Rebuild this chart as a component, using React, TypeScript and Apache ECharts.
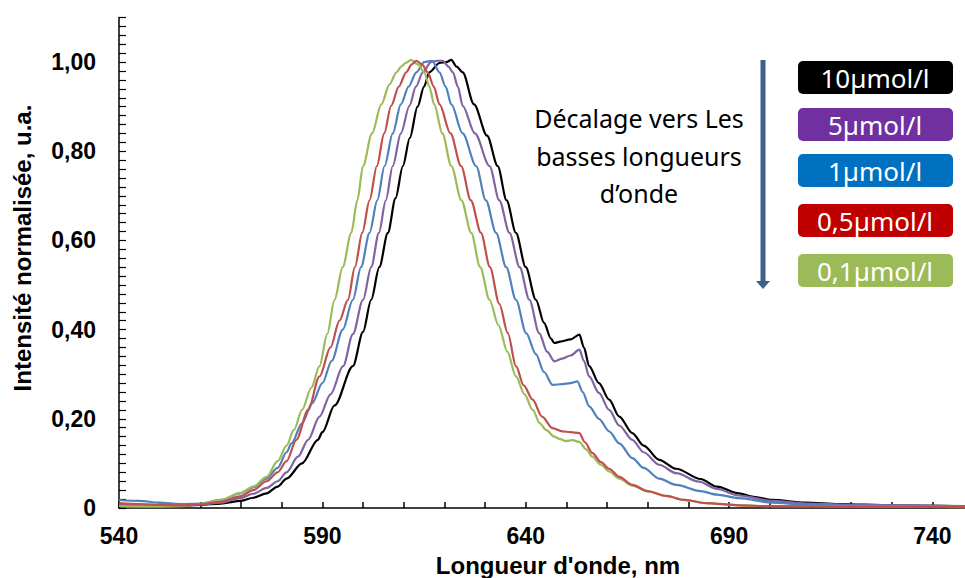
import React, { useEffect, useRef } from "react";
import * as echarts from "echarts";

// Wavelength (nm), normalised intensity pairs
const s10: [number, number][] = [[540,.005],[545,.004],[550,.004],[555,.005],[560,.007],[565,.010],[570,.016],[573,.023],[576.3,.033],[579,.048],[581.2,.066],[585,.10],[588.9,.153],[590,.17],[593,.23],[597.5,.318],[600,.395],[602,.467],[604,.54],[606.1,.617],[608,.695],[609.8,.767],[611.5,.83],[613.4,.90],[615,.945],[616.3,.977],[618.8,.998],[620.5,1.0],[621.7,1.005],[623,.99],[624.5,.977],[627.3,.905],[630.5,.835],[633.1,.767],[635.3,.69],[637.6,.617],[640,.54],[642.5,.467],[644.5,.415],[646.2,.38],[647,.37],[648.5,.373],[651,.378],[653.2,.389],[654.3,.36],[655.6,.318],[658,.28],[660.5,.243],[663,.205],[666.2,.168],[669,.14],[672.8,.108],[677,.088],[683,.065],[687,.048],[692.4,.033],[696,.025],[700.6,.018],[708.8,.012],[717,.009],[730,.006],[748,.004]];
const s5: [number, number][] = [[540,.008],[545,.006],[550,.005],[555,.006],[560,.008],[565,.012],[569.7,.022],[573,.032],[576.3,.045],[579,.06],[581.2,.08],[584,.115],[586.5,.153],[589.3,.205],[592,.255],[595.1,.318],[597.5,.39],[600,.467],[602,.54],[603.9,.617],[605.6,.69],[607.3,.767],[609.3,.84],[611.4,.902],[613,.945],[614.7,.977],[616.7,1.0],[618.2,1.003],[619.6,1.003],[621,.99],[622.1,.977],[623.3,.945],[624.5,.902],[627.5,.84],[631.1,.767],[633.5,.69],[636,.617],[638.5,.54],[640.9,.467],[643.3,.392],[645.3,.35],[647,.329],[649,.335],[651,.342],[653.2,.355],[654.3,.33],[655.6,.295],[658,.258],[660.5,.22],[663,.185],[666.2,.153],[669,.125],[672.8,.097],[677,.078],[682.6,.059],[687,.043],[692.4,.028],[700.6,.016],[708.8,.010],[720,.007],[748,.004]];
const s1: [number, number][] = [[540,.018],[545,.016],[550,.012],[555,.009],[560,.010],[565,.018],[569.7,.033],[573,.046],[576.3,.066],[579,.09],[581.2,.125],[582.4,.145],[585,.19],[587.5,.235],[590,.28],[592.3,.33],[595,.4],[597.5,.467],[599.5,.54],[601.6,.617],[603.5,.69],[605.3,.767],[607.3,.84],[609.3,.905],[611.2,.945],[613.1,.977],[615,1.0],[617,1.003],[618.8,.977],[620.3,.945],[621.7,.905],[624.5,.84],[627.8,.767],[630.2,.69],[632.7,.617],[635.2,.54],[637.6,.467],[640.1,.392],[642.5,.345],[644.5,.305],[646.6,.276],[649,.278],[651,.28],[652.7,.284],[654,.26],[655.6,.228],[658,.2],[660.5,.172],[663,.145],[666.2,.112],[669,.09],[672.8,.066],[677,.052],[683,.038],[687,.03],[692.4,.022],[700.6,.012],[708.8,.008],[720,.005],[748,.003]];
const s05: [number, number][] = [[540,.011],[545,.009],[550,.007],[555,.006],[560,.008],[565,.014],[569.7,.026],[573,.04],[576.3,.06],[579,.08],[581.2,.105],[583.6,.153],[586.5,.22],[589.3,.295],[592,.36],[594.2,.42],[596.3,.467],[598,.54],[599.8,.617],[601.6,.69],[603.4,.767],[605.2,.84],[606.9,.902],[608.8,.945],[610.6,.977],[612,.995],[613.1,1.003],[614.5,.995],[615.9,.977],[617.4,.945],[618.8,.905],[621.5,.84],[624.1,.767],[626.5,.69],[629,.617],[631.2,.54],[633.5,.458],[635.6,.392],[637.6,.318],[639.5,.275],[641.7,.243],[644,.205],[646.6,.179],[649,.172],[651,.17],[653.2,.168],[654.5,.148],[656.4,.123],[658.5,.103],[660.5,.088],[663,.07],[666.2,.052],[670,.038],[674.5,.027],[679,.018],[684.3,.011],[692.4,.006],[700,.004],[748,.002]];
const s01: [number, number][] = [[540,.004],[545,.003],[550,.003],[555,.004],[560,.009],[565,.018],[569.7,.033],[573,.048],[576.3,.07],[579,.105],[581.2,.14],[583,.175],[585,.22],[587.3,.27],[589.3,.318],[591.2,.39],[593,.467],[595,.54],[597.1,.617],[598.6,.69],[600,.767],[602.2,.84],[604.5,.905],[606.5,.95],[608.2,.977],[609.4,.99],[610.5,.998],[611.8,1.005],[613.5,.995],[615.1,.977],[616.3,.945],[617.5,.905],[619.5,.84],[621.7,.767],[624.2,.69],[626.6,.617],[628.8,.54],[631.1,.467],[633.3,.41],[635.5,.35],[637.6,.295],[639.7,.255],[641.7,.22],[643.5,.19],[645,.175],[647,.16],[648.3,.155],[649.9,.15],[651.5,.152],[653.2,.148],[654.8,.132],[656.4,.115],[658.5,.097],[660.5,.082],[663,.066],[666.2,.05],[670,.037],[674.5,.027],[679,.018],[684.3,.011],[692.4,.006],[700,.004],[748,.002]];

const seriesNames = ["10µmol/l", "5µmol/l", "1µmol/l", "0,5µmol/l", "0,1µmol/l"];
const lineColors = ["#000000", "#8064A2", "#4F81BD", "#C0504D", "#9BBB59"];
const boxColors = ["#000000", "#7030A0", "#0070C0", "#C00000", "#9BBB59"];
const allData = [s10, s5, s1, s05, s01];
const annotationLines = ["Décalage vers Les", "basses longueurs", "d’onde"];

export default function App() {
  const ref = useRef<HTMLDivElement>(null);
  useEffect(() => {
    if (!ref.current) return;
    const chart = echarts.init(ref.current, undefined, { renderer: "svg" });
    const boxTops = [61, 108, 154, 204, 254];
    const graphic: any[] = [];
    boxTops.forEach((t, i) => {
      graphic.push({
        type: "rect",
        shape: { x: 798, y: t, width: 155, height: 33, r: 5 },
        style: { fill: boxColors[i] },
      });
      graphic.push({
        type: "text",
        x: 875,
        y: t + 17,
        style: {
          text: seriesNames[i],
          fill: "#ffffff",
          font: '26px "Noto Sans", sans-serif',
          align: "center",
          verticalAlign: "middle",
        },
      });
    });
    annotationLines.forEach((l, i) => {
      graphic.push({
        type: "text",
        x: 639,
        y: 118 + i * 37.5,
        style: {
          text: l,
          fill: "#000000",
          font: '25px "Noto Sans", sans-serif',
          align: "center",
          verticalAlign: "middle",
        },
      });
    });
    graphic.push({
      type: "line",
      shape: { x1: 763, y1: 60, x2: 763, y2: 282 },
      style: { stroke: "#3E5F8A", lineWidth: 5 },
    });
    graphic.push({
      type: "polygon",
      shape: { points: [[756, 281], [770, 281], [763, 289]] },
      style: { fill: "#3E5F8A" },
    });
    graphic.push({
      type: "text",
      x: 22,
      y: 248,
      rotation: Math.PI / 2,
      style: {
        text: "Intensité normalisée, u.a.",
        fill: "#000000",
        font: 'bold 24px "Liberation Sans", Arial, sans-serif',
        align: "center",
        verticalAlign: "middle",
      },
    });
    graphic.push({
      type: "text",
      x: 558,
      y: 565,
      style: {
        text: "Longueur d'onde, nm",
        fill: "#000000",
        font: 'bold 24px "Liberation Sans", Arial, sans-serif',
        align: "center",
        verticalAlign: "middle",
      },
    });

    const order = [0, 1, 2, 4, 3];
    chart.setOption({
      animation: false,
      backgroundColor: "#ffffff",
      grid: { left: 119, right: 0, top: 17.5, bottom: 70 },
      xAxis: {
        type: "value",
        min: 540,
        max: 748,
        interval: 10,
        axisLine: { lineStyle: { color: "#000", width: 1.5 } },
        axisTick: { inside: true, length: 6, lineStyle: { color: "#000", width: 1.5 } },
        splitLine: { show: false },
        axisLabel: {
          margin: 16,
          color: "#000",
          fontFamily: '"Liberation Sans", Arial, sans-serif',
          fontWeight: "bold",
          fontSize: 23,
          showMaxLabel: false,
          formatter: (v: number) => (Math.round(v) % 50 === 40 ? String(Math.round(v)) : ""),
        },
      },
      yAxis: {
        type: "value",
        min: 0,
        max: 1.1,
        interval: 0.02,
        axisLine: { show: true, lineStyle: { color: "#000", width: 1.5 } },
        axisTick: { inside: true, length: 7, lineStyle: { color: "#000", width: 1.2 } },
        splitLine: { show: false },
        axisLabel: {
          margin: 23,
          color: "#000",
          fontFamily: '"Liberation Sans", Arial, sans-serif',
          fontWeight: "bold",
          fontSize: 23,
          formatter: (v: number) => {
            const k = Math.round(v * 100);
            if (k === 0) return "0";
            if (k % 20 !== 0 || k > 100) return "";
            return (k / 100).toFixed(2).replace(".", ",");
          },
        },
      },
      series: order.map((i) => ({
        name: seriesNames[i],
        type: "line",
        data: allData[i],
        showSymbol: false,
        smooth: 0.3,
        smoothMonotone: "x",
        lineStyle: { color: lineColors[i], width: 2.2 },
        itemStyle: { color: lineColors[i] },
      })),
      graphic,
    });
    return () => chart.dispose();
  }, []);
  return (
    <div
      ref={ref}
      style={{ position: "absolute", left: 0, top: 0, width: 965, height: 578 }}
    />
  );
}
